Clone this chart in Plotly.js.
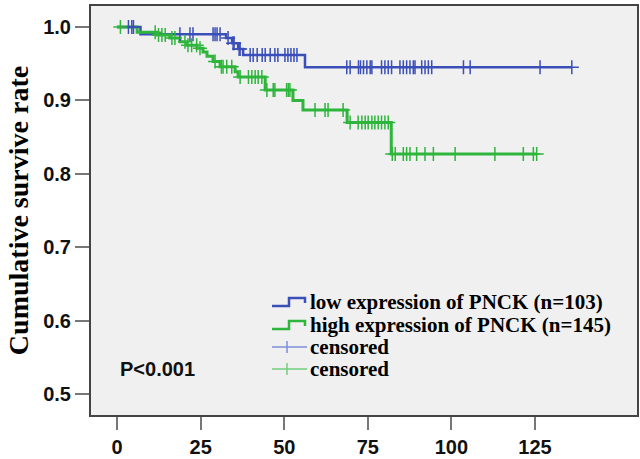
<!DOCTYPE html>
<html>
<head>
<meta charset="utf-8">
<script src="https://cdn.plot.ly/plotly-3.0.1.min.js"></script>
<style>html,body{margin:0;padding:0;background:#fff}#chart{width:640px;height:459px}</style>
</head>
<body>
<div id="chart"></div>
<script>
// Kaplan-Meier step data (time in months, cumulative survival)
const lowTimes  = [0, 7.0, 32.6, 34.4, 36.2, 37.7, 56.2, 136.0];
const lowSurv   = [1.0, 0.990, 0.985, 0.978, 0.970, 0.962, 0.945, 0.945];
const highTimes = [0, 6.0, 12.0, 15.8, 18.8, 20.9, 23.9, 25.7, 26.9, 28.7, 30.8, 35.3, 36.2, 44.3, 52.6, 55.6, 68.8, 82.0, 125.5];
const highSurv  = [1.0, 0.993, 0.989, 0.985, 0.980, 0.975, 0.971, 0.966, 0.960, 0.953, 0.946, 0.939, 0.932, 0.914, 0.900, 0.887, 0.870, 0.827, 0.827];

// censored observation times
const lowCensor = [3.4, 4.4, 4.9, 18.8, 21.8, 22.7, 28.7, 29.3, 29.9, 30.8, 33.2, 34.7, 35.0, 36.5, 36.8,
  39.8, 40.7, 41.9, 43.4, 44.3, 45.8, 47.2, 48.1, 50.2, 51.1, 52.0, 52.9, 53.8,
  68.7, 69.7, 72.2, 72.8, 73.7, 74.7, 75.7, 76.2, 79.1, 80.1, 81.1, 82.1, 84.6, 85.6, 86.6, 87.6, 88.6, 89.1,
  91.1, 92.1, 93.1, 94.1, 103.6, 105.6, 126.5, 136.0];
const highCensor = [1.0, 11.4, 12.4, 13.4, 14.4, 16.4, 17.3, 20.3, 21.2, 22.3, 23.8, 24.8, 29.3, 31.2, 31.7, 32.8, 34.3,
  36.8, 39.3, 40.3, 41.3, 42.2, 43.3, 44.8, 46.7, 47.2, 50.7, 51.2, 51.7, 59.2, 62.2, 63.1, 67.6,
  69.7, 72.1, 73.2, 74.2, 75.1, 76.2, 77.1, 78.1, 79.1, 80.1, 81.1, 82.3, 83.2, 85.6, 86.6, 87.6, 89.6,
  92.1, 94.6, 101.1, 113.0, 121.5, 124.5, 125.5];

const seriesNames = ["low expression of PNCK (n=103)", "high expression of PNCK (n=145)", "censored", "censored"];
const xTicks = [0, 25, 50, 75, 100, 125];
const yTicks = [0.5, 0.6, 0.7, 0.8, 0.9, 1.0];

function survAt(times, surv, t) {
  let s = surv[0];
  for (let i = 0; i < times.length; i++) { if (times[i] <= t) s = surv[i]; }
  return s;
}

const BLUE = "#3a4fb8", GREEN = "#2fb53c";
const BLUE_L = "#7d8fd8", GREEN_L = "#72cf7f";
const serif = "'Times New Roman', 'Liberation Serif', serif";
const sans = "Arial, 'Liberation Sans', sans-serif";

const traces = [
  {x: lowTimes, y: lowSurv, mode: "lines", line: {shape: "hv", color: BLUE, width: 2.5}, name: seriesNames[0]},
  {x: highTimes, y: highSurv, mode: "lines", line: {shape: "hv", color: GREEN, width: 3}, name: seriesNames[1]},
  {x: lowCensor, y: lowCensor.map(t => survAt(lowTimes, lowSurv, t)), mode: "markers",
   marker: {symbol: "cross-thin-open", size: 10, line: {color: BLUE, width: 1.5}, color: BLUE}, name: seriesNames[2]},
  {x: highCensor, y: highCensor.map(t => survAt(highTimes, highSurv, t)), mode: "markers",
   marker: {symbol: "cross-thin-open", size: 10, line: {color: GREEN, width: 1.5}, color: GREEN}, name: seriesNames[3]}
];

// legend drawn in paper space (pixel helpers relative to plot area 91..637 x 6..415)
const PX = p => (p - 91) / 546;
const PY = p => (415 - p) / 409;
const rowsY = [302, 325, 347, 369];
const legendColors = [BLUE, GREEN, BLUE_L, GREEN_L];
const shapes = [];
const annotations = [];
rowsY.forEach((ry, i) => {
  if (i < 2) {
    shapes.push({type: "path", xref: "paper", yref: "paper",
      path: `M ${PX(272)},${PY(ry + 4)} L ${PX(289)},${PY(ry + 4)} L ${PX(289)},${PY(ry - 4)} L ${PX(305)},${PY(ry - 4)} L ${PX(305)},${PY(ry + 1)}`,
      line: {color: legendColors[i], width: 2.5}});
  } else {
    shapes.push({type: "line", xref: "paper", yref: "paper", x0: PX(272), x1: PX(307), y0: PY(ry), y1: PY(ry),
      line: {color: legendColors[i], width: 1.5}});
    shapes.push({type: "line", xref: "paper", yref: "paper", x0: PX(287), x1: PX(287), y0: PY(ry - 6), y1: PY(ry + 6),
      line: {color: legendColors[i], width: 1.5}});
  }
  annotations.push({xref: "paper", yref: "paper", x: PX(308), y: PY(ry), xanchor: "left", yanchor: "middle",
    text: seriesNames[i], showarrow: false, font: {family: serif, size: 21, color: "#000", weight: "bold"}});
});
annotations.push({xref: "paper", yref: "paper", x: PX(118), y: PY(369), xanchor: "left", yanchor: "middle",
  text: "P<0.001", showarrow: false, font: {family: sans, size: 20, color: "#111", weight: "bold"}});

const layout = {
  width: 640, height: 459,
  margin: {l: 91, r: 3, t: 6, b: 44},
  paper_bgcolor: "#ffffff",
  plot_bgcolor: "#f0f0f0",
  showlegend: false,
  xaxis: {range: [-7.8, 155.5], tickvals: xTicks, ticktext: xTicks.map(String), showgrid: false, zeroline: false,
          showline: true, mirror: true, linecolor: "#444", linewidth: 2,
          ticks: "outside", ticklen: 13, tickwidth: 2, tickcolor: "#777",
          tickfont: {family: sans, size: 20, color: "#111", weight: "bold"}},
  yaxis: {range: [0.4714, 1.0286], tickvals: yTicks, ticktext: yTicks.map(v => v.toFixed(1)), showgrid: false, zeroline: false,
          showline: true, mirror: true, linecolor: "#444", linewidth: 2,
          ticks: "outside", ticklen: 14, tickwidth: 2, tickcolor: "#777",
          tickfont: {family: sans, size: 20, color: "#111", weight: "bold"},
          title: {text: "Cumulative survive rate", font: {family: serif, size: 28, color: "#000", weight: "bold"}, standoff: 6}},
  shapes: shapes,
  annotations: annotations
};

Plotly.newPlot("chart", traces, layout, {displayModeBar: false, staticPlot: true});
</script>
</body>
</html>
